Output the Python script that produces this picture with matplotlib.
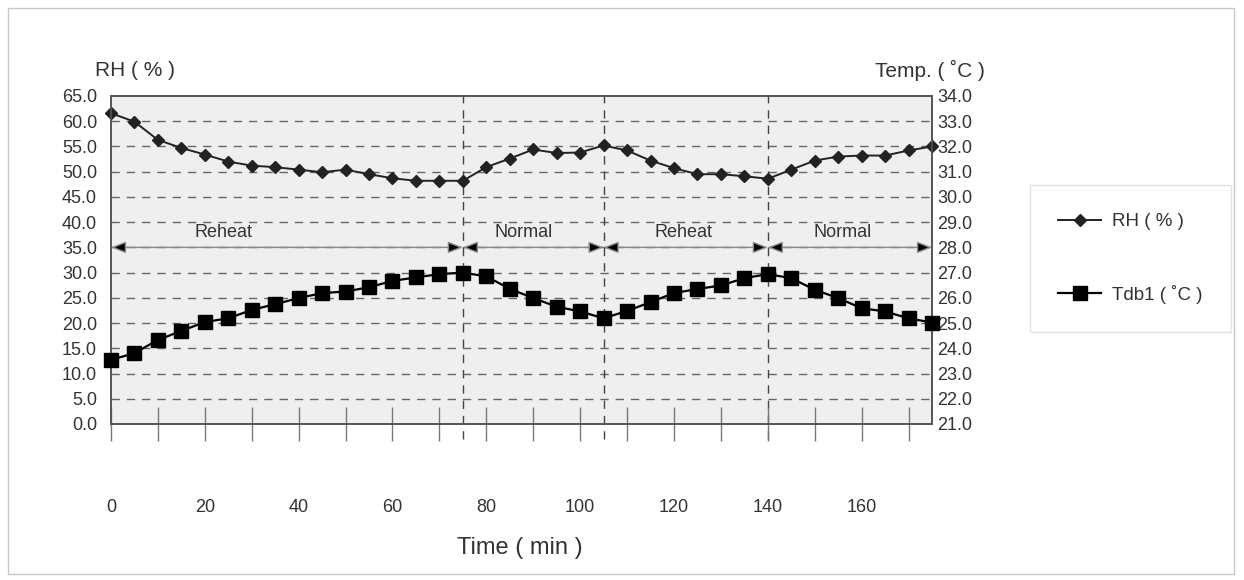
import matplotlib
matplotlib.use("Agg")
import matplotlib.pyplot as plt
from matplotlib.patches import Rectangle

plt.rcParams["font.family"] = ["Liberation Sans Narrow", "Liberation Sans", "DejaVu Sans"]

# ---- data ----
time_min = list(range(0, 180, 5))
rh = [61.6, 59.9, 56.3, 54.7, 53.4, 52.0, 51.2, 50.9, 50.4, 49.9, 50.4, 49.5,
      48.7, 48.2, 48.2, 48.2, 50.9, 52.6, 54.4, 53.7, 53.8, 55.2, 54.2, 52.2,
      50.7, 49.5, 49.5, 49.1, 48.6, 50.4, 52.2, 53.0, 53.2, 53.2, 54.2, 55.0]
tdb1 = [23.54, 23.81, 24.33, 24.69, 25.04, 25.19, 25.52, 25.75, 25.99, 26.19,
        26.25, 26.42, 26.67, 26.81, 26.94, 27.00, 26.85, 26.36, 25.99, 25.65,
        25.46, 25.19, 25.48, 25.83, 26.19, 26.35, 26.49, 26.78, 26.94, 26.78,
        26.32, 25.99, 25.59, 25.46, 25.19, 25.02]

phase_names = ["Reheat", "Normal", "Reheat", "Normal"]
phase_bounds = [0, 75, 105, 140, 175]
phase_label_x = [24, 88, 122, 156]

rh_ticks = [i * 5 for i in range(14)]
temp_ticks = list(range(21, 35))
x_ticks = list(range(0, 180, 10))
x_labels = [str(t) if t % 20 == 0 and t <= 160 else "" for t in x_ticks]

fig = plt.figure(figsize=(12.44, 5.8), dpi=100)
# faint frame round the whole chart
fig.patches.append(Rectangle((8 / 1244, 6 / 580), 1226 / 1244, 566 / 580,
                             transform=fig.transFigure, fill=False,
                             edgecolor="#c8c8c8", lw=1.0))

ax = fig.add_axes([111 / 1244, 1 - 424 / 580, 821 / 1244, 328 / 580])
ax.set_facecolor("#efefef")
ax.set_xlim(0, 175)
ax.set_ylim(0, 65)

# dashed grid + phase boundaries
for v in rh_ticks[1:-1]:
    ax.axhline(v, color="#666666", lw=1.0, ls=(0, (6, 5)), zorder=1)
for v in phase_bounds[1:-1]:
    ax.plot([v, v], [-3, 65], color="#444444", lw=1.0, ls=(0, (6, 5)),
            zorder=1, clip_on=False)

# phase arrows and labels
for i, name in enumerate(phase_names):
    ax.annotate("", xy=(phase_bounds[i + 1], 35), xytext=(phase_bounds[i], 35),
                arrowprops=dict(arrowstyle="<|-|>,head_length=0.9,head_width=0.35",
                                fc="black", ec="#888888", lw=1.0,
                                shrinkA=0, shrinkB=0), zorder=2)
    ax.text(phase_label_x[i], 36.2, name, ha="center", va="bottom",
            fontsize=13, color="#333333")

l1, = ax.plot(time_min, rh, color="#222222", lw=1.4, marker="D", ms=6.5,
              mfc="#222222", mec="#222222", zorder=4, label="RH ( % )", clip_on=False)

ax2 = ax.twinx()
ax2.set_ylim(21, 34)
l2, = ax2.plot(time_min, tdb1, color="black", lw=1.6, marker="s", ms=10,
               zorder=4, label="Tdb1 ( ˚C )", clip_on=False)

ax.set_yticks(rh_ticks)
ax.set_yticklabels([f"{v:.1f}" for v in rh_ticks])
ax2.set_yticks(temp_ticks)
ax2.set_yticklabels([f"{v:.1f}" for v in temp_ticks])
ax.set_xticks(x_ticks)
ax.set_xticklabels(x_labels)

ax.tick_params(axis="x", direction="inout", length=24, width=1.0, color="#777777",
               pad=42, labelsize=13, labelcolor="#333333")
ax.tick_params(axis="y", length=0, pad=10, labelsize=13, labelcolor="#333333")
ax2.tick_params(axis="y", length=0, pad=4, labelsize=13, labelcolor="#333333")

for a in (ax, ax2):
    for s in a.spines.values():
        s.set_color("#555555")
        s.set_linewidth(1.2)

fig.text(95 / 1244, 1 - 70 / 580, "RH ( % )", fontsize=15, color="#333333",
         ha="left", va="center")
fig.text(985 / 1244, 1 - 70 / 580, "Temp. ( ˚C )", fontsize=15, color="#333333",
         ha="right", va="center")
fig.text(520 / 1244, 1 - 548 / 580, "Time ( min )", fontsize=17, color="#333333",
         ha="center", va="center")

leg = fig.legend(handles=[l1, l2], loc="upper left",
                 bbox_to_anchor=(1030 / 1244, 1 - 185 / 580),
                 fontsize=13.5, frameon=True, fancybox=False, handlelength=2.3,
                 labelspacing=2.9, borderpad=1.5, handletextpad=0.6,
                 borderaxespad=0)
leg.get_frame().set_edgecolor("#dddddd")
leg.get_frame().set_linewidth(1.0)
for t in leg.get_texts():
    t.set_color("#333333")

fig.savefig("out.png", dpi=100)
